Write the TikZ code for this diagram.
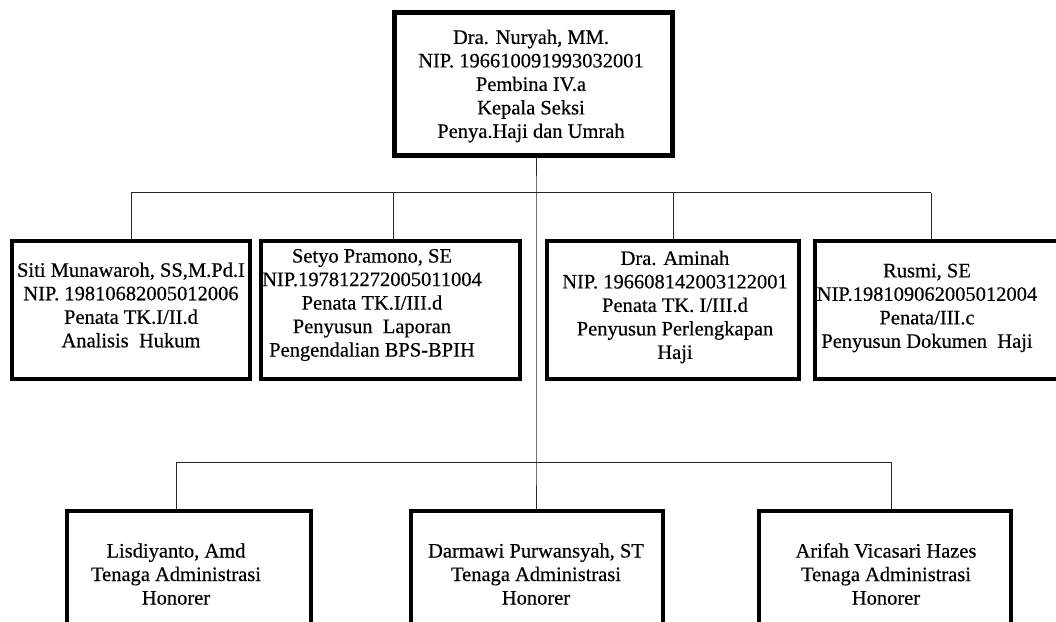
\documentclass[tikz,border=0pt]{standalone}
\usepackage{fontspec}
\setmainfont{Liberation Serif}
\newfontfamily\orgfont[FakeBold=0.4]{Liberation Serif}
\begin{document}
\begin{tikzpicture}[x=1bp,y=-1bp,
  box/.style={draw=black,line width=4.5bp,rectangle,inner sep=0pt},
  txt/.style={align=center,inner sep=0pt,font=\orgfont\fontsize{20.5bp}{23.5bp}\selectfont},
  conn/.style={draw=black!85,line width=1bp}]
\useasboundingbox (0,0) rectangle (1056,622);
\clip (0,0) rectangle (1056,622);
\fill[white] (0,0) rectangle (1056,622);
% boxes
\node[box,minimum width=278bp,minimum height=143bp] (top) at (533.5,84) {};
\node[box,minimum width=238bp,minimum height=138bp] (m1) at (131,310) {};
\node[box,minimum width=259bp,minimum height=138bp] (m2) at (390.5,310) {};
\node[box,minimum width=252bp,minimum height=138bp] (m3) at (673,310) {};
\node[box,minimum width=265bp,minimum height=138bp] (m4) at (947.5,310) {};
\node[box,minimum width=244bp,minimum height=200bp] (b1) at (189,611) {};
\node[box,minimum width=252bp,minimum height=200bp] (b2) at (537,611) {};
\node[box,minimum width=252bp,minimum height=200bp] (b3) at (885,611) {};
% texts
\node[txt] (ttop) at (531,86) {Dra. Nuryah, MM.\\NIP. 196610091993032001\\Pembina IV.a\\Kepala Seksi\\Penya.Haji dan Umrah};
\node[txt] (tm1) at (131,305) {Siti Munawaroh, SS,M.Pd.I\\NIP. 19810682005012006\\Penata TK.I/II.d\\Analisis~ Hukum};
\node[txt] (tm2) at (372,305) {Setyo Pramono, SE\\NIP.197812272005011004\\Penata TK.I/III.d\\Penyusun~ Laporan\\Pengendalian BPS-BPIH};
\node[txt] (tm3) at (675,307) {Dra. Aminah\\NIP. 196608142003122001\\Penata TK. I/III.d\\Penyusun Perlengkapan\\Haji};
\node[txt] (tm4) at (927,308) {Rusmi, SE\\NIP.198109062005012004\\Penata/III.c\\Penyusun Dokumen~ Haji};
\node[txt] (tb1) at (176,574) {Lisdiyanto, Amd\\Tenaga Administrasi\\Honorer};
\node[txt] (tb2) at (536,574) {Darmawi Purwansyah, ST\\Tenaga Administrasi\\Honorer};
\node[txt] (tb3) at (886,574) {Arifah Vicasari Hazes\\Tenaga Administrasi\\Honorer};
% connector points
\coordinate (j1) at (536,193);
\coordinate (j2) at (536,462);
\coordinate (p1) at (131,193);
\coordinate (p2) at (393,193);
\coordinate (p3) at (673,193);
\coordinate (p4) at (931,193);
\coordinate (q1) at (176,462);
\coordinate (q3) at (891,462);
% connectors
\draw[conn] (top.south -| j1) -- (j1) -- (j2) -- (j2 |- b2.north);
\draw[conn] (p1) -- (p4);
\draw[conn] (p1) -- (p1 |- m1.north);
\draw[conn] (p2) -- (p2 |- m2.north);
\draw[conn] (p3) -- (p3 |- m3.north);
\draw[conn] (p4) -- (p4 |- m4.north);
\draw[conn] (q1) -- (q3);
\draw[conn] (q1) -- (q1 |- b1.north);
\draw[conn] (q3) -- (q3 |- b3.north);
\end{tikzpicture}
\end{document}
